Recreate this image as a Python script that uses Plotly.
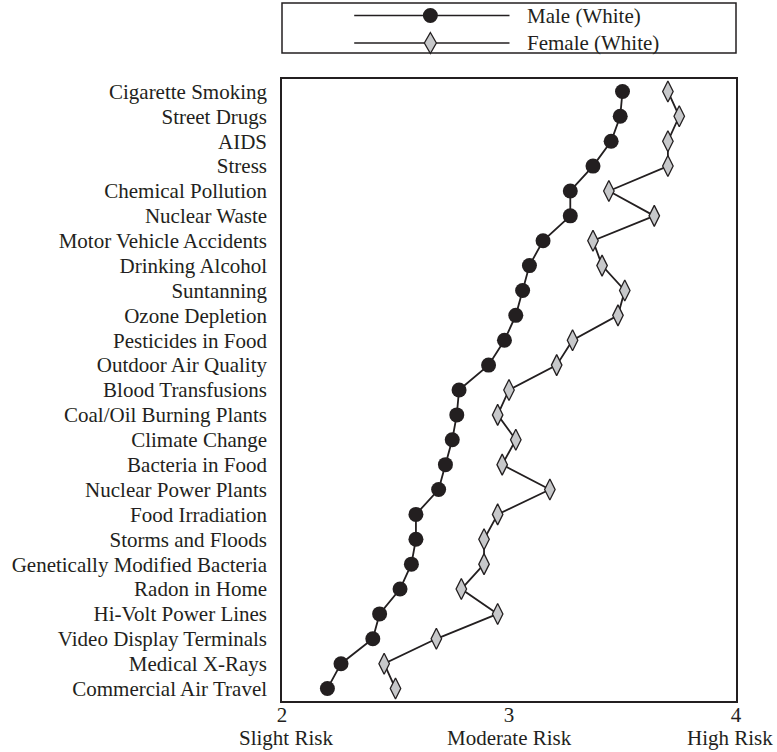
import plotly.graph_objects as go

categories = [
    "Cigarette Smoking", "Street Drugs", "AIDS", "Stress", "Chemical Pollution",
    "Nuclear Waste", "Motor Vehicle Accidents", "Drinking Alcohol", "Suntanning",
    "Ozone Depletion", "Pesticides in Food", "Outdoor Air Quality",
    "Blood Transfusions", "Coal/Oil Burning Plants", "Climate Change",
    "Bacteria in Food", "Nuclear Power Plants", "Food Irradiation",
    "Storms and Floods", "Genetically Modified Bacteria", "Radon in Home",
    "Hi-Volt Power Lines", "Video Display Terminals", "Medical X-Rays",
    "Commercial Air Travel",
]

male_white = [3.50, 3.49, 3.45, 3.37, 3.27, 3.27, 3.15, 3.09, 3.06, 3.03,
              2.98, 2.91, 2.78, 2.77, 2.75, 2.72, 2.69, 2.59, 2.59, 2.57,
              2.52, 2.43, 2.40, 2.26, 2.20]

female_white = [3.70, 3.75, 3.70, 3.70, 3.44, 3.64, 3.37, 3.41, 3.51, 3.48,
                3.28, 3.21, 3.00, 2.95, 3.03, 2.97, 3.18, 2.95, 2.89, 2.89,
                2.79, 2.95, 2.68, 2.45, 2.50]

tick_vals = [2, 3, 4]
tick_text = ["2", "3", "4"]
scale_labels = ["Slight Risk", "Moderate Risk", "High Risk"]
series_names = ["Male (White)", "Female (White)"]

FONT = "Liberation Serif, Times New Roman, serif"
INK = "#231f20"
GRAY = "#c7c8ca"

fig = go.Figure()
fig.add_trace(go.Scatter(
    x=male_white, y=categories, mode="lines+markers", name=series_names[0],
    line=dict(color=INK, width=1.8),
    marker=dict(symbol="circle", size=15, color=INK, line=dict(color=INK, width=0)),
    showlegend=False,
))
fig.add_trace(go.Scatter(
    x=female_white, y=categories, mode="lines+markers", name=series_names[1],
    line=dict(color=INK, width=1.8),
    marker=dict(symbol="diamond-tall", size=15, color=GRAY, line=dict(color=INK, width=1.3)),
    showlegend=False,
))

# plot area geometry (pixels)
W, H = 777, 752
L, R, T, B = 277, 41, 79, 51
pw, ph = W - L - R, H - T - B


def px_x(X):
    return (X - L) / pw


def px_y(Y):
    return (H - B - Y) / ph


shapes = []
annotations = []
# legend box
shapes.append(dict(type="rect", xref="paper", yref="paper",
                   x0=0, x1=1, y0=px_y(53), y1=px_y(3),
                   line=dict(color=INK, width=1.5), fillcolor="white"))
rows = [15.5, 43]
for i, (name, Y) in enumerate(zip(series_names, rows)):
    shapes.append(dict(type="line", xref="paper", yref="paper",
                       x0=px_x(350), x1=px_x(507), y0=px_y(Y), y1=px_y(Y),
                       line=dict(color=INK, width=1.4)))
    if i == 0:
        shapes.append(dict(type="circle", xref="paper", yref="paper",
                           xsizemode="pixel", ysizemode="pixel",
                           xanchor=px_x(427), yanchor=px_y(Y),
                           x0=-7.5, x1=7.5, y0=-7.5, y1=7.5,
                           fillcolor=INK, line=dict(color=INK, width=0)))
    else:
        shapes.append(dict(type="path", xref="paper", yref="paper",
                           xsizemode="pixel", ysizemode="pixel",
                           xanchor=px_x(427), yanchor=px_y(Y),
                           path="M 0 10.5 L 6 0 L 0 -10.5 L -6 0 Z",
                           fillcolor=GRAY, line=dict(color=INK, width=1.3)))
    annotations.append(dict(text=name, xref="paper", yref="paper",
                            x=px_x(523), y=px_y(Y), xanchor="left", yanchor="middle",
                            showarrow=False, font=dict(family=FONT, size=21, color=INK)))

for v, lab in zip(tick_vals, scale_labels):
    annotations.append(dict(text=lab, xref="x", yref="paper", x=v, y=px_y(738),
                            xanchor="center", yanchor="middle", showarrow=False,
                            xshift=(-6 if v == 4 else 4 if v == 2 else 0),
                            font=dict(family=FONT, size=21, color=INK)))

fig.update_layout(
    width=W, height=H,
    margin=dict(l=L, r=R, t=T, b=B),
    paper_bgcolor="white", plot_bgcolor="white",
    font=dict(family=FONT, size=21, color=INK),
    shapes=shapes, annotations=annotations,
    showlegend=False,
)
fig.update_xaxes(range=[2, 4], tickvals=tick_vals, ticktext=tick_text,
                 showgrid=False, zeroline=False, showline=True, mirror=True,
                 linecolor=INK, linewidth=1.5, ticks="", ticklabelstandoff=-6,
                 tickfont=dict(family=FONT, size=21, color=INK))
fig.update_yaxes(categoryorder="array", categoryarray=categories,
                 range=[len(categories) - 0.5, -0.5],
                 tickmode="linear", tick0=0, dtick=1,
                 showgrid=False, zeroline=False, showline=True, mirror=True,
                 linecolor=INK, linewidth=1.5, ticks="", ticklabelstandoff=9,
                 tickfont=dict(family=FONT, size=21, color=INK))

fig.write_html("out.html", config=dict(displayModeBar=False),
               post_script="document.body.style.margin='0';document.body.style.overflow='hidden';")
